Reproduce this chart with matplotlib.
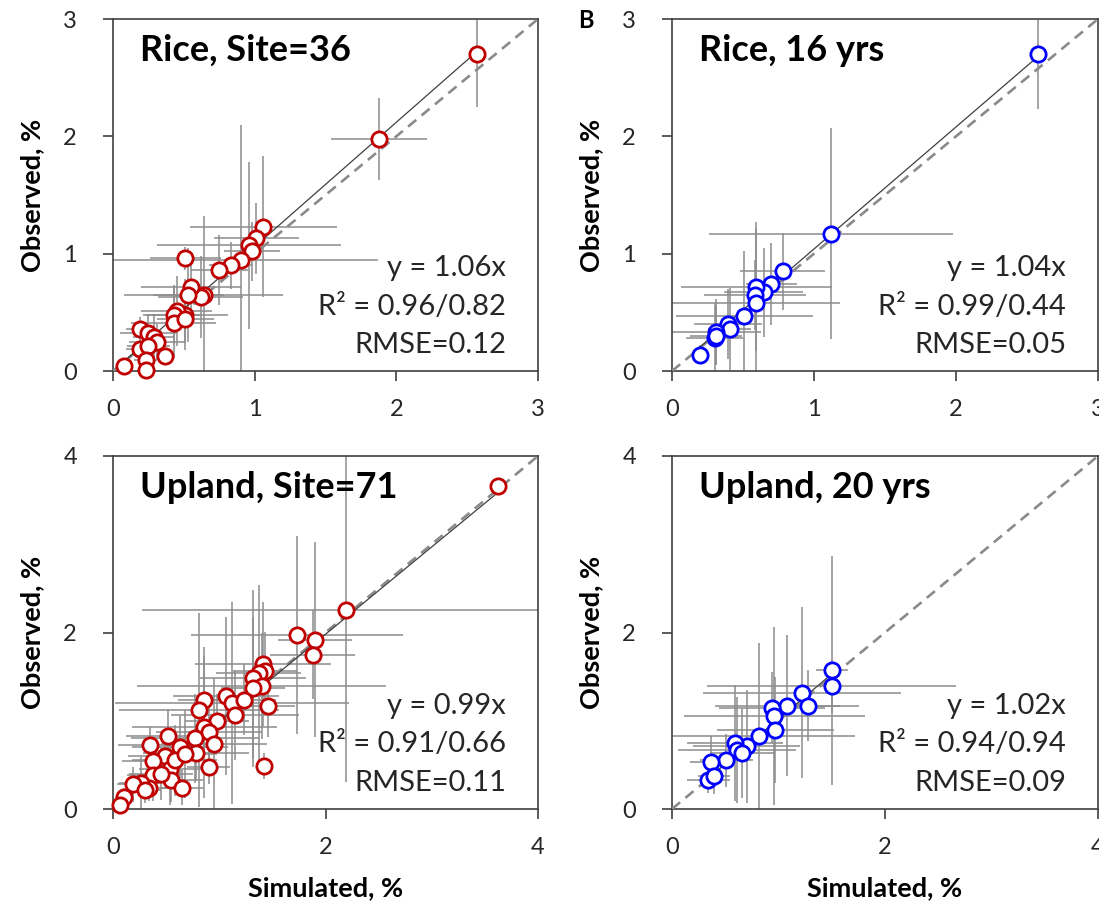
import matplotlib
matplotlib.use("Agg")
import matplotlib.pyplot as plt

plt.rcParams['font.family'] = ['Lato', 'DejaVu Sans']

# Rice, 36 sites
sim_rice_site = [2.57, 1.88, 1.06, 1.01, 0.96, 0.98, 0.90, 0.83, 0.75, 0.51, 0.64, 0.62, 0.55, 0.53,
                 0.51, 0.45, 0.43, 0.43, 0.51, 0.19, 0.25, 0.29, 0.31, 0.19, 0.25, 0.37, 0.23, 0.23, 0.08]
obs_rice_site = [2.70, 1.98, 1.23, 1.13, 1.07, 1.02, 0.95, 0.90, 0.86, 0.96, 0.65, 0.63, 0.72, 0.65,
                 0.48, 0.51, 0.48, 0.41, 0.44, 0.36, 0.32, 0.29, 0.25, 0.19, 0.21, 0.13, 0.09, 0.01, 0.04]
sim_err_rice_site = [0.0, 0.34, 0.52, 0.30, 0.65, 0.20, 0.97, 0.15, 0.20, 0.25, 0.56, 0.30, 0.35, 0.25,
                     0.30, 0.25, 0.20, 0.30, 0.20, 0.10, 0.20, 0.15, 0.20, 0.10, 0.15, 0.05, 0.08, 0.05, 0.05]
obs_err_rice_site = [0.45, 0.35, 0.60, 0.30, 0.71, 0.25, 1.15, 0.20, 0.30, 0.10, 0.67, 0.35, 0.25, 0.40,
                     0.30, 0.30, 0.25, 0.30, 0.20, 0.10, 0.15, 0.20, 0.15, 0.10, 0.15, 0.05, 0.10, 0.05, 0.05]

# Rice, 16 years
sim_rice_yr = [2.58, 1.12, 0.78, 0.70, 0.645, 0.595, 0.585, 0.59, 0.51, 0.395, 0.405, 0.31, 0.30, 0.31, 0.20]
obs_rice_yr = [2.70, 1.17, 0.85, 0.74, 0.67, 0.72, 0.65, 0.58, 0.47, 0.40, 0.36, 0.33, 0.28, 0.30, 0.14]
sim_err_rice_yr = [0.0, 0.86, 0.30, 0.18, 0.28, 0.53, 0.36, 0.59, 0.48, 0.24, 0.15, 0.32, 0.20, 0.18, 0.05]
obs_err_rice_yr = [0.47, 0.90, 0.33, 0.35, 0.38, 0.55, 0.30, 0.64, 0.55, 0.30, 0.35, 0.28, 0.30, 0.25, 0.08]

# Upland, 71 sites
sim_upland_site = [3.62, 2.19, 1.73, 1.90, 1.88, 1.41, 1.43, 1.37, 1.32, 1.40, 1.32, 1.46, 1.06, 1.12, 1.23,
                   1.15, 0.86, 0.81, 0.98, 0.86, 0.90, 0.95, 0.77, 0.78, 0.90, 1.42, 0.52, 0.63, 0.35, 0.49,
                   0.38, 0.54, 0.38, 0.55, 0.65, 0.34, 0.26, 0.19, 0.30, 0.10, 0.07, 0.45, 0.58, 0.68]
obs_upland_site = [3.66, 2.25, 1.97, 1.92, 1.75, 1.64, 1.56, 1.54, 1.48, 1.39, 1.37, 1.17, 1.28, 1.20, 1.24,
                   1.06, 1.24, 1.12, 1.00, 0.93, 0.87, 0.74, 0.80, 0.63, 0.48, 0.49, 0.83, 0.70, 0.73, 0.60,
                   0.54, 0.45, 0.39, 0.33, 0.24, 0.24, 0.29, 0.28, 0.22, 0.14, 0.04, 0.40, 0.55, 0.62]
sim_err_upland_site = [0.0, 1.92, 1.00, 0.35, 0.40, 0.64, 0.30, 0.40, 0.50, 1.17, 0.30, 0.25, 0.50, 1.10, 0.30,
                       0.60, 0.25, 0.75, 0.30, 0.68, 0.50, 0.50, 0.60, 0.50, 0.20, 0.05, 0.40, 0.45, 0.30, 0.35,
                       0.30, 0.30, 0.25, 0.30, 0.20, 0.20, 0.20, 0.15, 0.15, 0.05, 0.05, 0.30, 0.40, 0.30]
obs_err_upland_site = [0.0, 1.94, 1.12, 1.10, 0.50, 0.70, 0.45, 1.00, 1.00, 0.60, 0.80, 0.35, 0.90, 1.14, 0.40,
                       0.50, 0.60, 1.10, 0.30, 0.80, 0.40, 0.75, 0.50, 0.30, 0.20, 0.15, 0.30, 0.35, 0.20, 0.30,
                       0.25, 0.40, 0.30, 0.25, 0.20, 0.15, 0.30, 0.20, 0.15, 0.10, 0.05, 0.30, 0.40, 0.50]

# Upland, 20 years
sim_upland_yr = [1.50, 1.50, 1.22, 1.28, 1.08, 0.94, 0.96, 0.97, 0.82, 0.70, 0.59, 0.61, 0.66, 0.51, 0.37, 0.34, 0.39]
obs_upland_yr = [1.57, 1.39, 1.32, 1.17, 1.17, 1.15, 1.05, 0.90, 0.83, 0.71, 0.75, 0.67, 0.63, 0.55, 0.53, 0.33, 0.37]
sim_err_upland_yr = [0.15, 1.17, 0.93, 0.30, 0.68, 0.50, 0.85, 0.55, 0.90, 0.50, 0.45, 0.55, 0.30, 0.25, 0.20, 0.20, 0.15]
obs_err_upland_yr = [1.30, 0.30, 0.97, 0.40, 0.80, 0.40, 1.01, 0.60, 1.05, 0.64, 0.66, 0.60, 0.50, 0.30, 0.30, 0.15, 0.20]

titles = ["Rice, Site=36", "Rice, 16 yrs", "Upland, Site=71", "Upland, 20 yrs"]
slopes = [1.06, 1.04, 0.99, 1.02]
r2_texts = ["0.96/0.82", "0.99/0.44", "0.91/0.66", "0.94/0.94"]
rmse = ["0.12", "0.05", "0.11", "0.09"]
limits = [3, 3, 4, 4]

panels = [
    (sim_rice_site, obs_rice_site, sim_err_rice_site, obs_err_rice_site, '#C00000'),
    (sim_rice_yr, obs_rice_yr, sim_err_rice_yr, obs_err_rice_yr, '#0000FF'),
    (sim_upland_site, obs_upland_site, sim_err_upland_site, obs_err_upland_site, '#C00000'),
    (sim_upland_yr, obs_upland_yr, sim_err_upland_yr, obs_err_upland_yr, '#0000FF'),
]

W, H = 1099, 906
# axes boxes in pixels: left, bottom edge (from top), width, height
boxes = [
    (113, 371, 425, 352),
    (672, 371, 426, 352),
    (113, 809, 425, 353),
    (672, 809, 426, 353),
]

fig = plt.figure(figsize=(W / 100, H / 100), dpi=100)

for i, (sim, obs, sx, sy, col) in enumerate(panels):
    left, bottom, w, h = boxes[i]
    ax = fig.add_axes([left / W, (H - bottom) / H, w / W, h / H])
    lim = limits[i]

    ax.errorbar(sim, obs, xerr=sx, yerr=sy, fmt='none', ecolor='#8c8c8c',
                elinewidth=1.1, capsize=0, zorder=2)
    # 1:1 line and fitted line through origin
    ax.plot([0, lim], [0, lim], color='#8a8a8a', lw=1.9, dashes=(4, 2.6), zorder=3)
    xs = [min(sim), max(sim)]
    ax.plot(xs, [slopes[i] * v for v in xs], color='#404040', lw=0.9, zorder=3)
    ax.plot(sim, obs, 'o', ms=11, mfc='white', mec=col, mew=2.0, zorder=4, clip_on=False)

    ax.set_xlim(0, lim)
    ax.set_ylim(0, lim)
    step = 1 if lim == 3 else 2
    ax.set_xticks(range(0, lim + 1, step))
    ax.set_yticks(range(0, lim + 1, step))
    ax.tick_params(axis='both', direction='out', length=7, width=1.2, color='#404040',
                   labelsize=17, labelcolor='#262626')
    ax.tick_params(axis='y', pad=19)
    ax.tick_params(axis='x', pad=13)
    for s in ax.spines.values():
        s.set_color('#404040')
        s.set_linewidth(1.2)

    ax.text(0.063, 0.91, titles[i], transform=ax.transAxes, fontsize=26,
            fontweight='bold', ha='left', va='center', color='black')
    stats = [f"y = {slopes[i]:.2f}x", f"R² = {r2_texts[i]}", f"RMSE={rmse[i]}"]
    for k, ypos in enumerate([0.292, 0.183, 0.074]):
        ax.text(0.925, ypos, stats[k], transform=ax.transAxes, fontsize=21,
                ha='right', va='center', color='#262626')

    ax.set_ylabel("Observed, %", fontsize=19.5, fontweight='bold', labelpad=13.5)
    if i >= 2:
        ax.set_xlabel("Simulated, %", fontsize=19.5, fontweight='bold', labelpad=13)

fig.text(586 / W, 1 - 20 / H, "B", fontsize=17, fontweight='bold', ha='center', va='center')

fig.savefig("out.png", dpi=100)
